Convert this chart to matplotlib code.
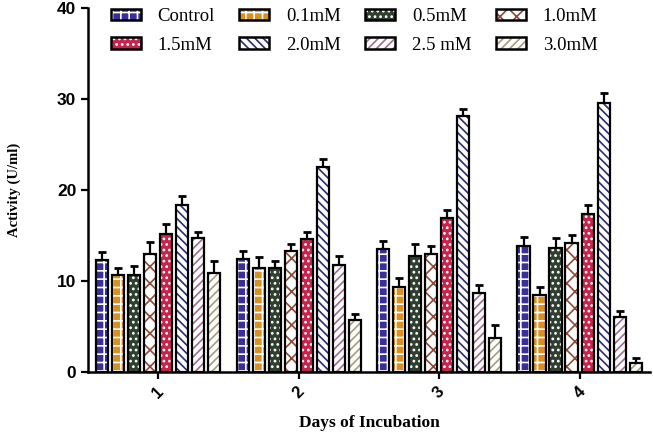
import numpy as np
import matplotlib.pyplot as plt

plt.rcParams['hatch.linewidth'] = 1.2

days = ['1', '2', '3', '4']
labels = ['Control', '0.1mM', '0.5mM', '1.0mM', '1.5mM', '2.0mM', '2.5 mM', '3.0mM']

# mean activity (U/ml) per concentration, one value per day
means = {
    'Control': [12.3, 12.4, 13.5, 13.8],
    '0.1mM':   [10.6, 11.4, 9.3, 8.4],
    '0.5mM':   [10.6, 11.4, 12.7, 13.6],
    '1.0mM':   [13.0, 13.3, 13.0, 14.2],
    '1.5mM':   [15.2, 14.6, 16.9, 17.4],
    '2.0mM':   [18.3, 22.5, 28.1, 29.6],
    '2.5 mM':  [14.7, 11.8, 8.7, 6.0],
    '3.0mM':   [10.9, 5.7, 3.7, 1.0],
}
errs = {
    'Control': [0.9, 0.9, 0.9, 1.0],
    '0.1mM':   [0.8, 1.2, 1.0, 0.9],
    '0.5mM':   [1.0, 0.8, 1.4, 1.1],
    '1.0mM':   [1.3, 0.7, 0.8, 0.8],
    '1.5mM':   [1.0, 0.8, 0.9, 0.9],
    '2.0mM':   [1.0, 0.9, 0.8, 1.0],
    '2.5 mM':  [0.7, 0.9, 0.9, 0.7],
    '3.0mM':   [1.3, 0.7, 1.4, 0.5],
}

# (face colour, hatch colour, hatch)
styles = {
    'Control': ('#3a2f9a', 'white', '++'),
    '0.1mM':   ('#d89020', 'white', '++'),
    '0.5mM':   ('#2f3f30', 'white', '...'),
    '1.0mM':   ('white', '#8c4a38', 'xx'),
    '1.5mM':   ('#c8234c', 'white', '...'),
    '2.0mM':   ('white', '#2c2c6e', '\\\\\\\\'),
    '2.5 mM':  ('white', '#a06c92', '////'),
    '3.0mM':   ('white', '#a49e7a', '////'),
}

fig, ax = plt.subplots(figsize=(6.53, 4.36), dpi=100)
fig.subplots_adjust(left=0.135, right=0.995, top=0.982, bottom=0.147)

x = np.arange(1, len(days) + 1)
step = 0.114
width = 0.086
handles = []
for i, lab in enumerate(labels):
    pos = x + (i - 3.5) * step
    face, hcol, hatch = styles[lab]
    ax.bar(pos, means[lab], width, color=face, edgecolor=hcol, hatch=hatch,
           linewidth=0, zorder=2)
    ax.bar(pos, means[lab], width, fill=False, edgecolor='black',
           linewidth=1.6, zorder=3)
    ax.errorbar(pos, means[lab], yerr=[np.zeros(len(days)), errs[lab]],
                fmt='none', ecolor='black', elinewidth=1.6, capsize=3,
                capthick=2, zorder=1)
    h = plt.Rectangle((0, 0), 1, 1, facecolor=face, edgecolor=hcol,
                      hatch=hatch, linewidth=0)
    handles.append((h, plt.Rectangle((0, 0), 1, 1, fill=False,
                                     edgecolor='black', linewidth=1.8)))

order = [0, 4, 1, 5, 2, 6, 3, 7]
leg = ax.legend([handles[k] for k in order], [labels[k] for k in order],
                ncol=4, loc='upper left', bbox_to_anchor=(0.01, 1.045),
                frameon=False, prop={'family': 'Liberation Serif', 'size': 13.5},
                handlelength=1.6, handleheight=0.55, columnspacing=1.3,
                handletextpad=0.9, labelspacing=0.6)

ax.set_xlim(0.5, 4.5)
ax.set_ylim(0, 40)
ax.set_yticks([0, 10, 20, 30, 40])
ax.set_xticks(x)
ax.set_xticklabels(days, rotation=45, fontfamily='Liberation Sans',
                   fontweight='bold', fontsize=12)
for t in ax.get_yticklabels():
    t.set_fontfamily('Liberation Sans')
    t.set_fontweight('bold')
    t.set_fontsize(12.5)
ax.tick_params(axis='y', length=5, width=1.6)
ax.tick_params(axis='x', length=5, width=1.6)
for s in ['top', 'right']:
    ax.spines[s].set_visible(False)
for s in ['left', 'bottom']:
    ax.spines[s].set_linewidth(1.8)

ax.set_xlabel('Days of Incubation', fontfamily='Liberation Serif',
              fontweight='bold', fontsize=12.5, labelpad=10)
ax.set_ylabel('Activity (U/ml)', fontfamily='Liberation Serif',
              fontweight='bold', fontsize=10.5, labelpad=26)

fig.savefig('out.png', dpi=100)
